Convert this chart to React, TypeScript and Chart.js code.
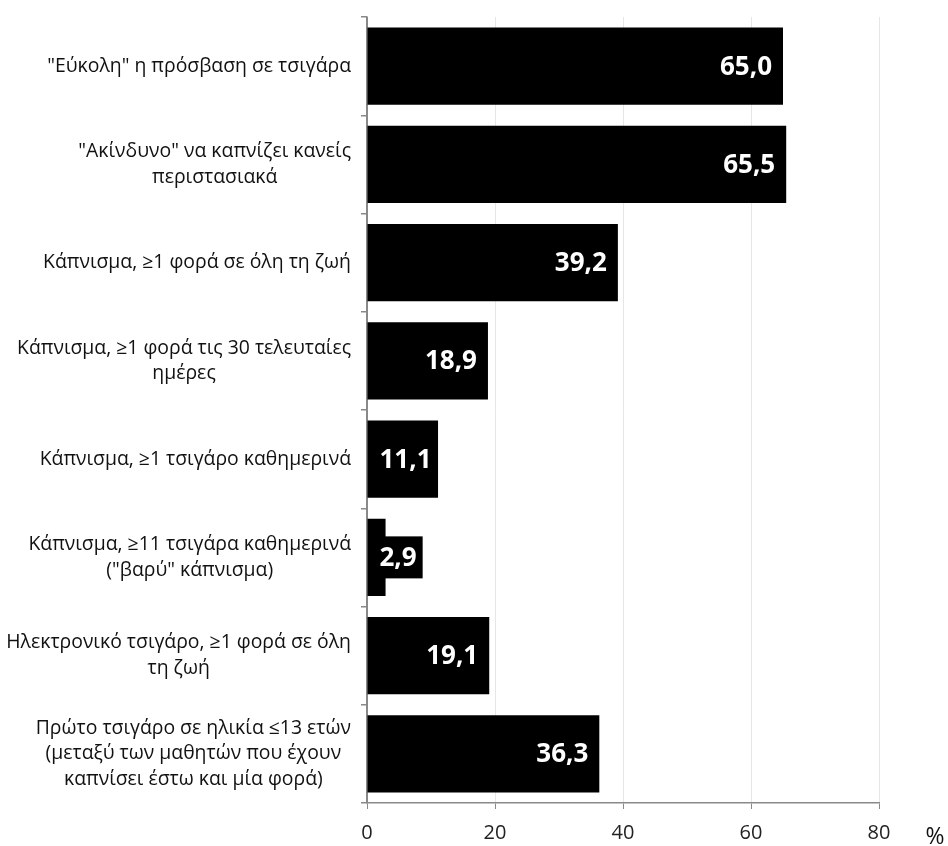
import React, { useEffect, useRef } from "react";
import { Chart, registerables } from "chart.js";

Chart.register(...registerables);

const categories: string[][] = [
  ['"Εύκολη" η πρόσβαση σε τσιγάρα'],
  ['"Ακίνδυνο" να καπνίζει κανείς', "περιστασιακά"],
  ["Κάπνισμα, ≥1 φορά σε όλη τη ζωή"],
  ["Κάπνισμα, ≥1 φορά τις 30 τελευταίες", "ημέρες"],
  ["Κάπνισμα, ≥1 τσιγάρο καθημερινά"],
  ["Κάπνισμα, ≥11 τσιγάρα καθημερινά", '("βαρύ" κάπνισμα)'],
  ["Ηλεκτρονικό τσιγάρο, ≥1 φορά σε όλη", "τη ζωή"],
  ["Πρώτο τσιγάρο σε ηλικία ≤13 ετών", "(μεταξύ των μαθητών που έχουν", "καπνίσει έστω και μία φορά)"],
];

const values: number[] = [65.0, 65.5, 39.2, 18.9, 11.1, 2.9, 19.1, 36.3];

const xMin = 0;
const xMax = 80;
const xStep = 20;
const unitLabel = "%";

const AXIS_GRAY = "#898989";
const FONT = "'Open Sans', 'DejaVu Sans', sans-serif";

const labelsPlugin = {
  id: "customLabels",
  afterDatasetsDraw(chart: any) {
    const ctx = chart.ctx;
    const meta = chart.getDatasetMeta(0);
    ctx.save();
    ctx.font = `bold 26px ${FONT}`;
    meta.data.forEach((bar: any, i: number) => {
      const text = values[i].toFixed(1).replace(".", ",");
      const tw = ctx.measureText(text).width;
      const boxW = tw + 12;
      const boxRight = Math.max(bar.x - 5, bar.base + 6 + boxW);
      ctx.fillStyle = "#000";
      ctx.fillRect(boxRight - boxW, bar.y - 21, boxW, 42);
      ctx.fillStyle = "#fff";
      ctx.textAlign = "right";
      ctx.textBaseline = "middle";
      ctx.fillText(text, boxRight - 6, bar.y + 1);
    });
    ctx.restore();
  },
  afterDraw(chart: any) {
    const ctx = chart.ctx;
    const yScale = chart.scales.y;
    ctx.save();
    ctx.font = `19.4px ${FONT}`;
    ctx.fillStyle = "#111";
    ctx.textAlign = "center";
    ctx.textBaseline = "middle";
    const rightEdge = chart.chartArea.left - 16;
    const lh = 25.5;
    categories.forEach((lines, i) => {
      const y = yScale.getPixelForValue(i);
      const widest = Math.max(...lines.map((l) => ctx.measureText(l).width));
      const cx = rightEdge - widest / 2;
      lines.forEach((line, j) => {
        ctx.fillText(line, cx, y + (j - (lines.length - 1) / 2) * lh);
      });
    });
    ctx.font = `23px ${FONT}`;
    ctx.fillStyle = "#111";
    ctx.textAlign = "center";
    ctx.fillText(unitLabel, 935, chart.chartArea.bottom + 34);
    ctx.restore();
  },
};

export default function App() {
  const canvasRef = useRef<HTMLCanvasElement | null>(null);

  useEffect(() => {
    if (!canvasRef.current) return;
    const chart = new Chart(canvasRef.current, {
      type: "bar",
      data: {
        labels: categories.map((c) => c.join(" ")),
        datasets: [
          {
            data: values,
            backgroundColor: "#000",
            borderWidth: 0,
            categoryPercentage: 0.8,
            barPercentage: 0.98,
          },
        ],
      },
      options: {
        indexAxis: "y",
        responsive: false,
        animation: false,
        layout: { padding: { top: 17, right: 69, left: 0, bottom: 0 } },
        plugins: {
          legend: { display: false },
          tooltip: { enabled: false },
        },
        scales: {
          x: {
            min: xMin,
            max: xMax,
            ticks: {
              stepSize: xStep,
              color: "#222",
              font: { family: FONT, size: 20 },
              padding: 12,
            },
            grid: {
              color: (c: any) => (c.tick && c.tick.value === 0 ? AXIS_GRAY : "#e6e6e6"),
              tickColor: AXIS_GRAY,
              tickLength: 6,
              lineWidth: 1,
            },
            border: { color: AXIS_GRAY, width: 1.5 },
            afterFit(scale: any) {
              scale.height = 43;
            },
          },
          y: {
            ticks: { display: false },
            grid: {
              drawOnChartArea: false,
              drawTicks: true,
              tickLength: 6,
              color: AXIS_GRAY,
              tickColor: AXIS_GRAY,
              offset: true,
              lineWidth: 1.5,
            },
            border: { color: AXIS_GRAY, width: 1.5 },
            afterFit(scale: any) {
              scale.width = 367;
            },
          },
        },
      },
      plugins: [labelsPlugin],
    });
    return () => chart.destroy();
  }, []);

  return (
    <div style={{ position: "absolute", left: 0, top: 0, width: 948, height: 846, background: "#fff" }}>
      <canvas ref={canvasRef} width={948} height={846} style={{ display: "block" }} />
    </div>
  );
}
